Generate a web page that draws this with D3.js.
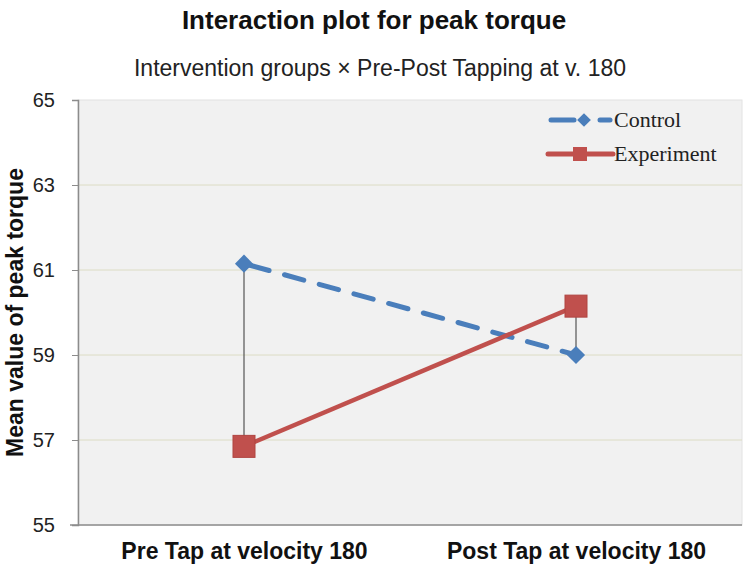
<!DOCTYPE html>
<html>
<head>
<meta charset="utf-8">
<script src="https://cdn.jsdelivr.net/npm/d3@7"></script>
<style>
  body { margin: 0; background: #fff; }
  text { font-family: Arial, "Liberation Sans", sans-serif; }
</style>
</head>
<body>
<div id="chart"></div>
<script>
const categories = ["Pre Tap at velocity 180", "Post Tap at velocity 180"];
const controlValues = [61.15, 59.0];
const experimentValues = [56.85, 60.15];
const yTicks = [55, 57, 59, 61, 63, 65];

const width = 749, height = 571;
const margin = { top: 100, right: 7, bottom: 46, left: 78 };

const svg = d3.select("#chart").append("svg")
  .attr("width", width).attr("height", height);

const x = d3.scalePoint()
  .domain(categories)
  .range([margin.left, width - margin.right])
  .padding(0.5);

const y = d3.scaleLinear()
  .domain([55, 65])
  .range([height - margin.bottom, margin.top]);

// plot background
svg.append("rect")
  .attr("x", margin.left).attr("y", margin.top)
  .attr("width", width - margin.right - margin.left)
  .attr("height", height - margin.bottom - margin.top)
  .attr("fill", "#f1f1f1")
  .attr("stroke", "#e2e2e2");

// gridlines
svg.append("g").selectAll("line")
  .data(yTicks.filter(d => d > 55 && d < 65))
  .join("line")
  .attr("x1", margin.left).attr("x2", width - margin.right)
  .attr("y1", d => y(d)).attr("y2", d => y(d))
  .attr("stroke", "#dcdcc4").attr("stroke-width", 1);

// y axis
const yAxis = svg.append("g")
  .attr("transform", `translate(${margin.left},0)`)
  .call(d3.axisLeft(y).tickValues(yTicks).tickSize(6).tickPadding(17));
yAxis.select(".domain").attr("stroke", "#8c8c8c").attr("stroke-width", 1.5);
yAxis.selectAll(".tick line").attr("stroke", "#8c8c8c");
yAxis.selectAll(".tick text")
  .attr("font-size", 20).attr("fill", "#222")
  .style("font-family", "Arial, 'Liberation Sans', sans-serif");

// x axis
const xAxis = svg.append("g")
  .attr("transform", `translate(0,${height - margin.bottom})`)
  .call(d3.axisBottom(x).tickSize(0).tickPadding(18));
xAxis.select(".domain").attr("stroke", "#8c8c8c").attr("stroke-width", 1.5)
  .attr("d", `M${margin.left - 8},0H${width - margin.right}`);
xAxis.selectAll(".tick text")
  .attr("font-size", 23).attr("font-weight", "bold").attr("fill", "#111")
  .style("font-family", "Arial, 'Liberation Sans', sans-serif");

// high-low lines
svg.append("g").selectAll("line")
  .data(categories)
  .join("line")
  .attr("x1", d => x(d)).attr("x2", d => x(d))
  .attr("y1", (d, i) => y(Math.max(controlValues[i], experimentValues[i])))
  .attr("y2", (d, i) => y(Math.min(controlValues[i], experimentValues[i])))
  .attr("stroke", "#555").attr("stroke-width", 1.2);

const line = d3.line()
  .x((d, i) => x(categories[i]))
  .y(d => y(d));

const blue = "#4a7ebb", red = "#c0504d";

// control (dashed)
svg.append("path")
  .datum(controlValues)
  .attr("d", line)
  .attr("fill", "none")
  .attr("stroke", blue).attr("stroke-width", 5)
  .attr("stroke-dasharray", "20,16").attr("stroke-dashoffset", -6)
  .attr("stroke-linecap", "round");

// experiment (solid)
svg.append("path")
  .datum(experimentValues)
  .attr("d", line)
  .attr("fill", "none")
  .attr("stroke", red).attr("stroke-width", 4.5);

const diamond = d3.symbol().type(d3.symbolDiamond2).size(210);

svg.append("g").selectAll("path")
  .data(controlValues)
  .join("path")
  .attr("transform", (d, i) => `translate(${x(categories[i])},${y(d)})`)
  .attr("d", diamond)
  .attr("fill", blue);

svg.append("g").selectAll("rect")
  .data(experimentValues)
  .join("rect")
  .attr("x", (d, i) => x(categories[i]) - 11)
  .attr("y", d => y(d) - 11)
  .attr("width", 22).attr("height", 22)
  .attr("fill", red).attr("stroke", "#b04440").attr("stroke-width", 1);

// legend
const serif = "'Liberation Serif', 'Times New Roman', serif";
const lg1 = svg.append("g").attr("transform", "translate(0,120)");
lg1.append("line").attr("x1", 551).attr("x2", 574).attr("stroke", blue)
  .attr("stroke-width", 5).attr("stroke-linecap", "round");
lg1.append("line").attr("x1", 600).attr("x2", 610).attr("stroke", blue)
  .attr("stroke-width", 5).attr("stroke-linecap", "round");
lg1.append("path").attr("transform", "translate(584,0)")
  .attr("d", d3.symbol().type(d3.symbolDiamond2).size(120)).attr("fill", blue);
lg1.append("text").attr("x", 614).attr("y", 7).attr("font-size", 22)
  .style("font-family", serif).attr("fill", "#222").text("Control");

const lg2 = svg.append("g").attr("transform", "translate(0,154)");
lg2.append("line").attr("x1", 548).attr("x2", 613).attr("stroke", red)
  .attr("stroke-width", 5).attr("stroke-linecap", "round");
lg2.append("rect").attr("x", 573).attr("y", -7).attr("width", 14).attr("height", 14)
  .attr("fill", red);
lg2.append("text").attr("x", 614).attr("y", 7).attr("font-size", 22)
  .style("font-family", serif).attr("fill", "#222").text("Experiment");

// titles
svg.append("text").attr("x", 374).attr("y", 29)
  .attr("text-anchor", "middle").attr("font-size", 26).attr("font-weight", "bold")
  .attr("fill", "#111").text("Interaction plot for peak torque");
svg.append("text").attr("x", 380).attr("y", 76)
  .attr("text-anchor", "middle").attr("font-size", 23)
  .attr("fill", "#222").text("Intervention  groups × Pre-Post Tapping at v. 180");

svg.append("text")
  .attr("transform", `translate(23,${(margin.top + height - margin.bottom) / 2}) rotate(-90)`)
  .attr("text-anchor", "middle").attr("font-size", 23).attr("font-weight", "bold")
  .attr("fill", "#111").text("Mean value of peak torque");
</script>
</body>
</html>
